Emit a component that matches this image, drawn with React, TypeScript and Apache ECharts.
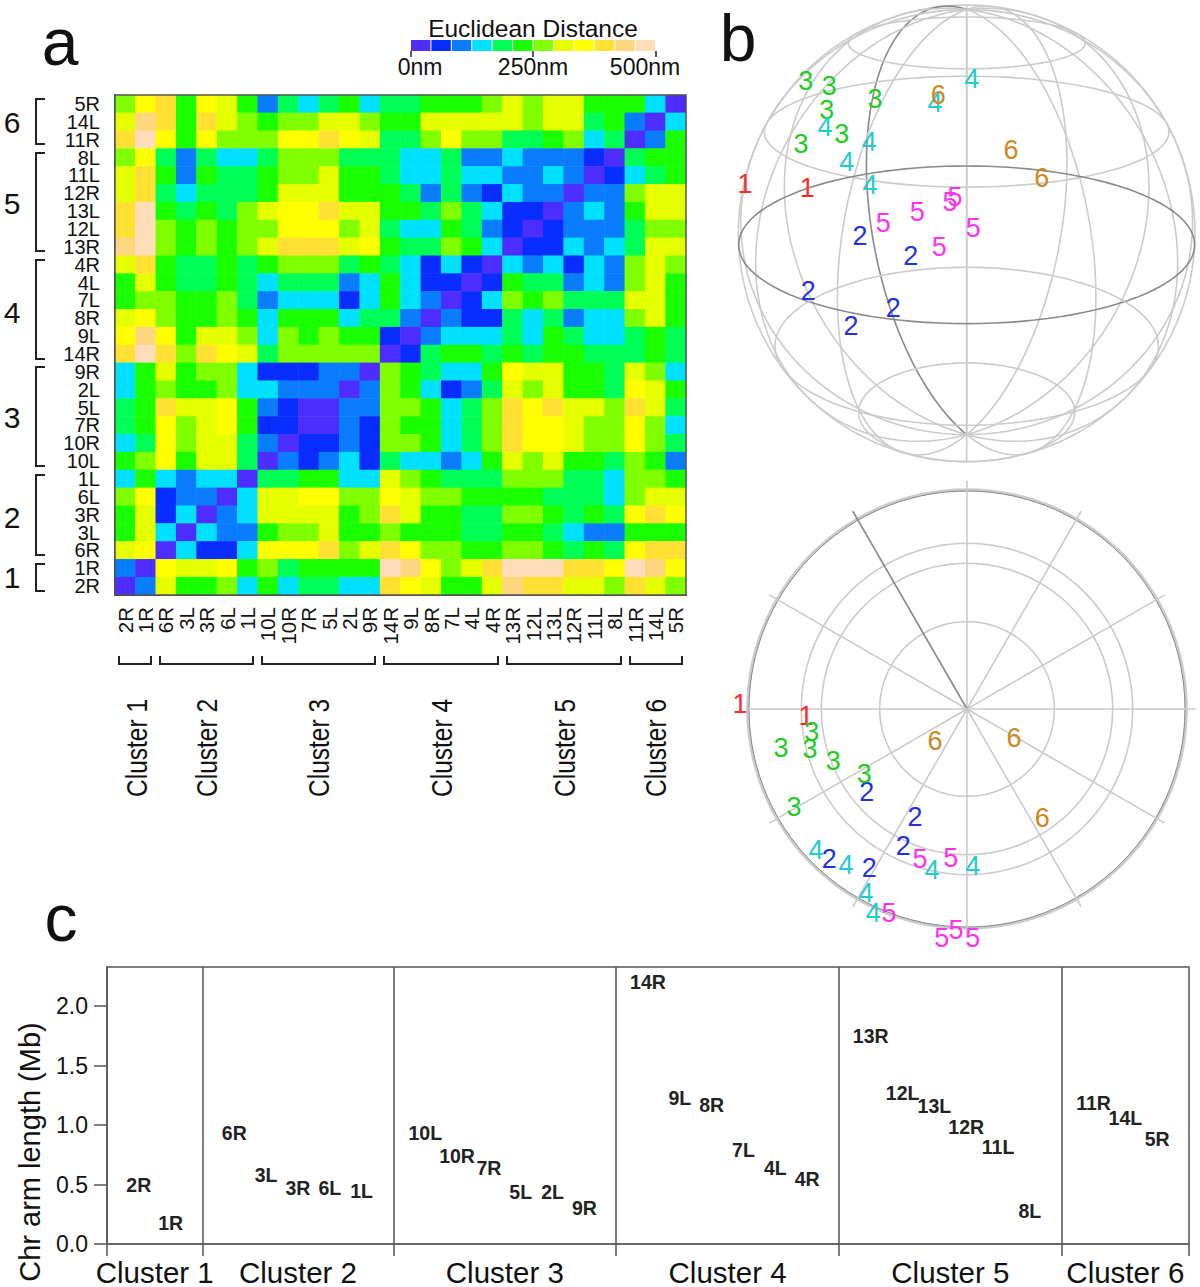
import React, { useEffect, useRef } from "react";
import * as echarts from "echarts";

const FONT = "Liberation Sans";

// Panel a: columns left to right, rows top to bottom
const armColumns = ["2R","1R","6R","3L","3R","6L","1L","10L","10R","7R","5L","2L","9R","14R","9L","8R","7L","4L","4R","13R","12L","13L","12R","11L","8L","11R","14L","5R"];
const armRows = ["5R","14L","11R","8L","11L","12R","13L","12L","13R","4R","4L","7L","8R","9L","14R","9R","2L","5L","7R","10R","10L","1L","6L","3R","3L","6R","1R","2R"];

// Distance bins (0 to 11, each 500/12 nm wide), one list per row
const row5R  = [6,8,9,5,8,7,5,2,4,3,4,5,3,4,4,5,5,5,6,7,6,7,7,5,5,5,3,0];
const row14L = [7,10,9,5,9,7,6,5,6,6,7,7,6,5,5,7,7,7,7,7,6,7,7,4,5,2,0,3];
const row11R = [9,11,8,5,8,6,6,6,8,8,9,8,7,4,4,6,8,6,6,4,4,5,6,3,4,0,2,5];
const row8L  = [6,8,4,2,4,3,3,4,6,6,6,4,4,4,3,3,4,2,2,3,2,2,2,1,0,4,5,5];
const row11L = [7,9,5,2,5,4,4,5,6,6,7,5,5,4,3,3,4,3,3,2,2,3,2,0,1,3,4,5];
const row12R = [7,9,4,3,4,4,4,5,7,7,7,5,5,5,4,2,4,2,1,3,2,2,0,2,2,6,7,7];
const row13L = [9,11,5,4,5,4,6,7,8,8,9,7,7,5,5,4,6,4,3,1,1,0,2,3,2,5,7,7];
const row12L = [9,11,6,5,6,5,6,6,8,8,8,6,7,4,3,3,5,4,2,1,0,1,2,2,2,4,6,6];
const row13R = [10,11,6,5,6,5,6,7,9,9,9,7,8,5,4,4,6,5,3,0,1,1,3,2,3,4,7,7];
const row4R  = [7,9,5,4,4,5,4,5,6,6,6,4,5,4,3,1,3,1,0,3,2,3,1,3,2,6,7,6];
const row4L  = [5,7,5,4,4,5,4,3,4,4,4,2,3,5,3,1,1,0,1,5,4,4,2,3,2,6,7,5];
const row7L  = [5,6,6,5,5,6,4,2,3,3,3,1,3,5,3,2,0,1,3,6,5,6,4,4,4,7,7,5];
const row8R  = [7,8,6,5,5,6,5,3,5,5,5,3,4,4,2,0,2,1,1,4,3,4,2,3,3,6,7,5];
const row9L  = [8,10,8,5,7,7,6,3,6,5,6,5,5,1,0,2,3,3,3,4,3,5,4,3,3,4,5,4];
const row14R = [9,11,9,6,9,8,7,4,6,6,6,6,6,0,1,4,5,5,4,5,4,5,5,4,4,4,5,4];
const row9R  = [3,5,7,5,6,6,3,1,1,1,2,2,0,6,5,4,3,3,5,8,7,7,5,5,4,7,6,3];
const row2L  = [3,5,6,5,5,6,3,3,2,2,2,0,2,6,5,3,1,2,4,7,6,7,5,5,4,8,7,5];
const row5L  = [4,5,9,7,7,8,5,2,1,0,0,2,2,6,6,5,3,4,6,9,8,9,7,7,6,9,7,4];
const row7R  = [4,5,8,6,7,8,5,1,1,0,0,2,1,6,5,5,3,4,6,9,8,8,7,6,6,8,6,3];
const row10R = [3,4,8,6,7,7,4,2,0,1,1,2,1,6,6,5,3,4,6,9,8,8,7,6,6,8,6,4];
const row10L = [5,6,8,5,7,7,4,0,2,1,2,3,1,4,3,3,2,3,5,7,6,7,5,5,4,6,5,2];
const row1L  = [3,5,3,2,3,3,0,4,4,5,5,3,3,7,6,5,4,4,4,6,6,6,4,4,3,6,6,5];
const row6L  = [6,8,1,2,2,0,3,7,7,8,8,6,6,8,7,6,6,5,5,5,5,4,4,4,3,6,7,7];
const row3R  = [5,7,1,3,0,2,3,7,7,7,7,5,6,9,7,5,5,4,4,6,6,5,4,5,4,8,9,8];
const row3L  = [5,7,3,0,3,2,2,5,6,6,7,5,5,6,5,5,5,4,4,5,5,4,3,2,2,5,5,5];
const row6R  = [7,8,0,3,1,1,3,8,8,8,9,6,7,9,8,6,6,5,5,6,6,5,4,5,4,8,9,9];
const row1R  = [2,0,8,7,7,8,5,6,4,5,5,5,5,11,10,8,6,7,9,11,11,11,9,9,8,11,10,8];
const row2R  = [0,2,7,5,5,6,3,5,3,4,4,3,3,9,8,7,5,5,7,10,9,9,7,7,6,9,7,6];
const heatRows = [row5R,row14L,row11R,row8L,row11L,row12R,row13L,row12L,row13R,row4R,row4L,row7L,row8R,row9L,row14R,row9R,row2L,row5L,row7R,row10R,row10L,row1L,row6L,row3R,row3L,row6R,row1R,row2R];

const binColors = ["#4d2eff","#0a2dff","#0a7dff","#00e1ff","#00ff55","#1aff00","#80ff00","#e6ff00","#ffff00","#ffe033","#ffd680","#ffddb8"];
const legendTicks = ["0nm","250nm","500nm"];

// Panel b: positions of the cluster digits on each sphere's 1440 x 1410 view plane
const clusterColors = ["#ff2a2a","#2233dd","#22cc22","#22cccc","#ff33ee","#cc8822"];
const topC1 = [[75,552],[262,563]];
const topC2 = [[420,708],[572,768],[265,873],[520,923],[393,977]];
const topC3 = [[257,243],[328,257],[320,330],[465,296],[365,403],[243,433]];
const topC4 = [[755,238],[645,308],[315,382],[448,425],[380,487],[450,555]];
const topC5 = [[490,668],[592,637],[705,592],[690,606],[760,685],[658,740]];
const topC6 = [[655,284],[873,450],[965,535]];
const topClusters = [topC1,topC2,topC3,topC4,topC5,topC6];
const lowC1 = [[60,672],[258,707]];
const lowC2 = [[440,935],[585,1010],[550,1097],[328,1138],[448,1165]];
const lowC3 = [[275,755],[270,808],[183,803],[340,842],[433,882],[222,982]];
const lowC4 = [[288,1110],[378,1155],[636,1170],[758,1158],[438,1240],[460,1300]];
const lowC5 = [[600,1138],[692,1135],[507,1300],[708,1350],[665,1375],[758,1375]];
const lowC6 = [[645,782],[882,775],[967,1015]];
const lowClusters = [lowC1,lowC2,lowC3,lowC4,lowC5,lowC6];

// Panel c
const chrNames = ["2R","1R","6R","3L","3R","6L","1L","10L","10R","7R","5L","2L","9R","14R","9L","8R","7L","4L","4R","13R","12L","13L","12R","11L","8L","11R","14L","5R"];
const chrPositions = [1,2,4,5,6,7,8,10,11,12,13,14,15,17,18,19,20,21,22,24,25,26,27,28,29,31,32,33];
const chrLengths = [0.5,0.18,0.93,0.58,0.47,0.47,0.45,0.93,0.74,0.64,0.44,0.44,0.3,2.2,1.23,1.17,0.79,0.64,0.55,1.75,1.27,1.16,0.98,0.82,0.28,1.19,1.06,0.88];
const clusterNames = ["Cluster 1","Cluster 2","Cluster 3","Cluster 4","Cluster 5","Cluster 6"];
const clusterCentres = [1.5,6,12.5,19.5,26.5,32];
const clusterDividers = [3,9,16,23,30];
const clusterEdges = [0,3,9,16,23,30,34];
const lengthTicks = [0,0.5,1,1.5,2];

// Wireframe settings of the two sphere views
const latitudes = [60,30,0,-30,-60];
const longitudes = [-180,-150,-120,-90,-60,-30,0,30,60,90,120,150];
const spokeAngles = [0,30,60,90,120,150,180,210,240,270,300,330];
const ringRadii = [262,437,497];

const TILT = (20 * Math.PI) / 180;
const DIST = 6.45;
const SCALE = 676.7;
function project(latDeg: number, lonDeg: number) {
  const la = (latDeg * Math.PI) / 180;
  const lo = (lonDeg * Math.PI) / 180;
  const x = Math.cos(la) * Math.sin(lo);
  const y = Math.sin(la);
  const z = Math.cos(la) * Math.cos(lo);
  const vy = y * Math.cos(TILT) - z * Math.sin(TILT);
  const vz = y * Math.sin(TILT) + z * Math.cos(TILT);
  const s = (DIST / (DIST - vz)) * SCALE;
  return [740 + x * s, 700 - vy * s];
}
function steps(a: number, b: number, n: number) {
  return Array.from({ length: n + 1 }, (_, i) => a + ((b - a) * i) / n);
}
function ring(cx: number, cy: number, r: number) {
  return steps(0, 2 * Math.PI, 120).map((t) => [cx + r * Math.cos(t), cy + r * Math.sin(t)]);
}
type Curve = { pts: number[][]; stroke: string; width: number };
const LIGHT = "#cbcbcb";
const DARK = "#8a8a8a";
const topWire: Curve[] = [
  { pts: ring(740, 700, 685), stroke: LIGHT, width: 1.6 },
  ...longitudes.map((lo) => ({
    pts: steps(90, -90, 80).map((la) => project(la, lo)),
    stroke: lo === -150 ? DARK : LIGHT,
    width: 1.6,
  })),
  ...latitudes.map((la) => ({
    pts: steps(0, 360, 120).map((lo) => project(la, lo)),
    stroke: la === 0 ? DARK : LIGHT,
    width: 1.6,
  })),
];
const LCX = 741;
const LCY = 687;
const lowWire: Curve[] = [
  { pts: ring(LCX, LCY, 658), stroke: LIGHT, width: 3 },
  { pts: ring(LCX, LCY, 654), stroke: DARK, width: 1 },
  ...ringRadii.map((r) => ({ pts: ring(LCX, LCY, r), stroke: LIGHT, width: 1.6 })),
  ...spokeAngles.map((a) => {
    const t = (a * Math.PI) / 180;
    const r = a === 180 ? 656 : 685;
    return {
      pts: [[LCX, LCY], [LCX + r * Math.cos(t), LCY - r * Math.sin(t)]],
      stroke: a === 120 ? DARK : LIGHT,
      width: 1.6,
    };
  }),
];

function wireSeries(curves: Curve[], axis: number) {
  return {
    type: "custom",
    xAxisIndex: axis,
    yAxisIndex: axis,
    silent: true,
    data: curves.map((_, i) => [i]),
    renderItem: (params: any, api: any) => {
      const c = curves[params.dataIndex];
      return {
        type: "polyline",
        shape: { points: c.pts.map((p) => api.coord(p)) },
        style: { stroke: c.stroke, lineWidth: c.width, fill: null },
      };
    },
  };
}
function digitSeries(groups: number[][][], axis: number) {
  return groups.map((pts, i) => ({
    type: "scatter",
    xAxisIndex: axis,
    yAxisIndex: axis,
    symbolSize: 1,
    silent: true,
    itemStyle: { color: "transparent", opacity: 1 },
    label: {
      show: true,
      position: "inside",
      formatter: String(i + 1),
      color: clusterColors[i],
      fontFamily: FONT,
      fontSize: 27,
    },
    data: pts,
  }));
}
function hiddenAxes(idx: number) {
  return {
    x: { type: "value", gridIndex: idx, min: 0, max: 1440, show: false },
    y: { type: "value", gridIndex: idx, min: 0, max: 1410, inverse: true, show: false },
  };
}

function text(content: string, x: number, y: number, size: number, extra: any = {}) {
  return {
    type: "text",
    x,
    y,
    z: 100,
    rotation: extra.rotation || 0,
    scaleX: extra.scaleX || 1,
    style: {
      text: content,
      fontFamily: FONT,
      fontSize: size,
      fill: "#111",
      textAlign: "center",
      textVerticalAlign: "middle",
    },
  };
}
function line(points: number[][], stroke = "#222", width = 2) {
  return {
    type: "polyline",
    z: 100,
    shape: { points },
    style: { stroke, lineWidth: width, fill: null },
  };
}

const rowBrackets = [
  ["6", 99, 144, 122],
  ["5", 153, 251, 203],
  ["4", 260, 359, 312],
  ["3", 367, 466, 417],
  ["2", 475, 555, 517],
  ["1", 564, 591, 577],
] as [string, number, number, number][];
const colBrackets = [[119, 151, 137], [160, 253, 207], [262, 375, 319], [384, 498, 442], [507, 621, 565], [630, 682, 656]];

export default function App() {
  const ref = useRef<HTMLDivElement>(null);
  useEffect(() => {
    document.body.style.margin = "0";
    const chart = echarts.init(ref.current!, undefined, { renderer: "svg" });
    const heatData: number[][] = [];
    heatRows.forEach((row, r) => row.forEach((v, c) => heatData.push([c, r, v])));
    const top = hiddenAxes(2);
    const low = hiddenAxes(3);
    const axisFont = { fontFamily: FONT, color: "#111" };
    chart.setOption({
      animation: false,
      backgroundColor: "#fff",
      grid: [
        { left: 115, top: 95, width: 571, height: 500 },
        { left: 410.5, top: 40, width: 245, height: 11 },
        { left: 720, top: 0, width: 480, height: 470 },
        { left: 720, top: 480, width: 480, height: 470 },
        { left: 107, top: 967, width: 1082, height: 278, show: true, borderColor: "#555", borderWidth: 1.5 },
      ],
      xAxis: [
        {
          type: "category", gridIndex: 0, data: armColumns,
          axisLine: { lineStyle: { color: "#222", width: 2 } },
          axisTick: { alignWithLabel: true, length: 10, lineStyle: { color: "#444", width: 2 } },
          axisLabel: { ...axisFont, interval: 0, rotate: 90, fontSize: 20.5, margin: 12 },
        },
        {
          type: "value", gridIndex: 1, min: 0, max: 500, interval: 250,
          axisLine: { show: false },
          axisTick: { length: 6, lineStyle: { color: "#222", width: 1.5 } },
          axisLabel: { show: false },
          splitLine: { show: false },
        },
        top.x,
        low.x,
        {
          type: "value", gridIndex: 4, min: 0, max: 34,
          axisLine: { lineStyle: { color: "#666", width: 2 } },
          axisTick: { customValues: clusterEdges, length: 12, lineStyle: { color: "#555", width: 1.5 } },
          axisLabel: {
            ...axisFont, customValues: clusterCentres, fontSize: 29.5, margin: 13,
            formatter: (v: number) => clusterNames[clusterCentres.indexOf(v)] ?? "",
          },
          splitLine: { show: false },
        },
      ],
      yAxis: [
        {
          type: "category", gridIndex: 0, data: armRows, inverse: true,
          axisLine: { lineStyle: { color: "#222", width: 2 } },
          axisTick: { alignWithLabel: true, length: 11, lineStyle: { color: "#444", width: 2 } },
          axisLabel: { ...axisFont, interval: 0, fontSize: 20, margin: 15 },
        },
        { type: "value", gridIndex: 1, min: 0, max: 1, show: false },
        top.y,
        low.y,
        {
          type: "value", gridIndex: 4, min: 0, max: 2.33,
          axisLine: { show: true, lineStyle: { color: "#555", width: 1.5 } },
          axisTick: { show: true, customValues: lengthTicks, length: 13, lineStyle: { color: "#555", width: 1.5 } },
          axisLabel: {
            ...axisFont, customValues: lengthTicks, fontSize: 23, margin: 19,
            formatter: (v: number) => v.toFixed(1),
          },
          splitLine: { show: false },
        },
      ],
      visualMap: {
        type: "piecewise", show: false, seriesIndex: 0, dimension: 2,
        pieces: binColors.map((color, i) => ({ value: i, color })),
      },
      series: [
        {
          type: "heatmap", xAxisIndex: 0, yAxisIndex: 0, data: heatData, silent: true,
          progressive: 0,
        },
        {
          type: "custom", xAxisIndex: 1, yAxisIndex: 1, silent: true,
          data: binColors.map((_, i) => [(i * 500) / 12, ((i + 1) * 500) / 12]),
          renderItem: (params: any, api: any) => {
            const a = api.coord([api.value(0), 1]);
            const b = api.coord([api.value(1), 0]);
            return {
              type: "rect",
              shape: { x: a[0] + 0.5, y: a[1], width: b[0] - a[0] - 1, height: b[1] - a[1] },
              style: { fill: binColors[params.dataIndex] },
            };
          },
        },
        wireSeries(topWire, 2),
        ...digitSeries(topClusters, 2),
        wireSeries(lowWire, 3),
        ...digitSeries(lowClusters, 3),
        {
          type: "scatter", xAxisIndex: 4, yAxisIndex: 4, symbolSize: 1, silent: true,
          itemStyle: { color: "transparent", opacity: 1 },
          label: {
            show: true, position: "inside", fontFamily: FONT, fontSize: 19.5, fontWeight: "bold", color: "#222",
            formatter: (p: any) => p.data[2],
          },
          data: chrNames.map((n, i) => [chrPositions[i], chrLengths[i], n]),
          markLine: {
            silent: true, symbol: "none", label: { show: false },
            lineStyle: { color: "#555", type: "solid", width: 1.5 },
            data: clusterDividers.map((x) => ({ xAxis: x })),
          },
        },
      ],
      graphic: [
        text("a", 60, 42, 66),
        text("b", 738, 38, 66),
        text("c", 61, 918, 66),
        text("Euclidean Distance", 533, 28, 24.5),
        text(legendTicks[0], 420, 67, 23),
        text(legendTicks[1], 533, 67, 23),
        text(legendTicks[2], 645, 67, 23),
        { type: "rect", z: 100, shape: { x: 115, y: 95, width: 571, height: 500 }, style: { fill: null, stroke: "#555", lineWidth: 1.5 } },
        ...rowBrackets.flatMap(([n, y0, y1, yc]) => [
          text(n, 12, yc, 30),
          line([[45, y0], [36, y0], [36, y1], [45, y1]]),
        ]),
        ...colBrackets.flatMap(([x0, x1, xc], i) => [
          line([[x0, 656], [x0, 664], [x1, 664], [x1, 656]]),
          text(clusterNames[i], xc, 748, 29, { rotation: Math.PI / 2, scaleX: 0.845 }),
        ]),
        text("Chr arm length (Mb)", 30, 1152, 29, { rotation: Math.PI / 2 }),
      ],
    });
    return () => chart.dispose();
  }, []);
  return <div ref={ref} style={{ width: 1200, height: 1287 }} />;
}
